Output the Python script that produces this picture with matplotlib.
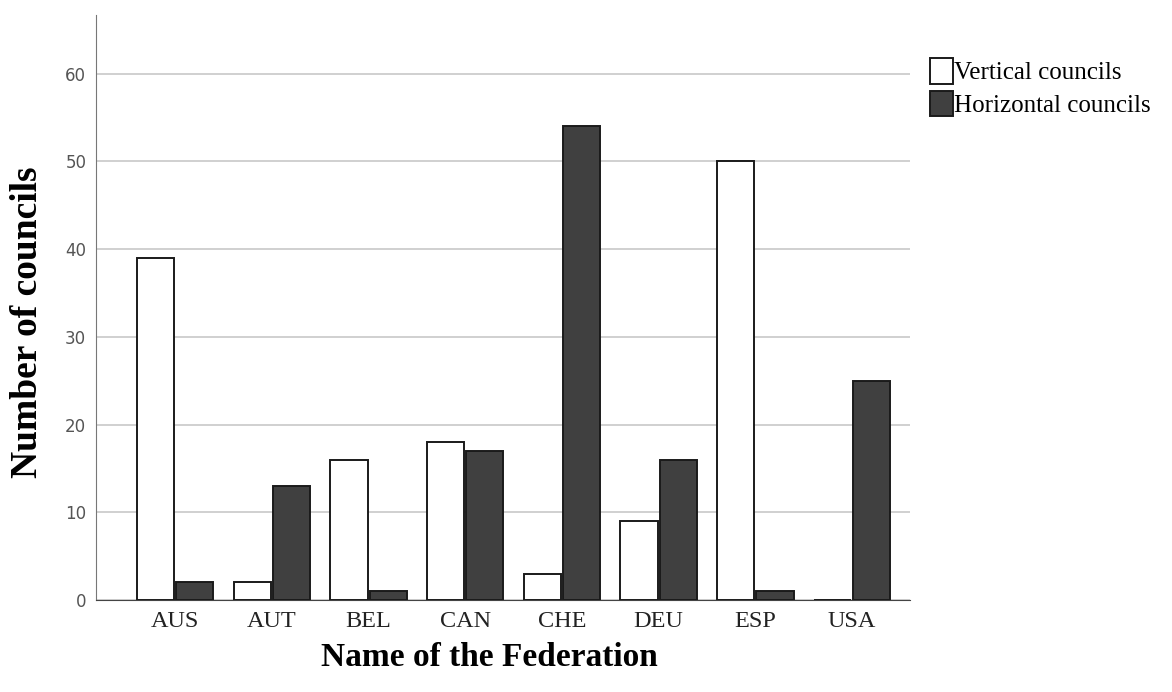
import numpy as np
import matplotlib.pyplot as plt

# Councils per federation
federations = ["AUS", "AUT", "BEL", "CAN", "CHE", "DEU", "ESP", "USA"]
vertical = [39, 2, 16, 18, 3, 9, 50, 0]
horizontal = [2, 13, 1, 17, 54, 16, 1, 25]

plt.rcParams['font.family'] = ['Liberation Serif', 'DejaVu Serif']

fig = plt.figure(figsize=(11.72, 6.92), dpi=100)
ax = fig.add_axes([96/1172, 92/692, (910-96)/1172, (600-15)/692])

x = np.arange(len(federations))
w = 0.385
ax.bar(x - w/2 - 0.01, vertical, w, color="white", edgecolor="#1a1a1a",
       linewidth=1.4, label="Vertical councils", zorder=3)
ax.bar(x + w/2 + 0.01, horizontal, w, color="#404040", edgecolor="#1a1a1a",
       linewidth=1.4, label="Horizontal councils", zorder=3)

ax.set_xlim(-0.82, 7.6)
ax.set_ylim(0, 66.7)
ax.set_yticks(range(0, 61, 10))
ax.set_xticks(x)
ax.set_xticklabels(federations, fontsize=17.5, color="#222222")
for t in ax.get_yticklabels():
    t.set_family("DejaVu Sans")
    t.set_fontsize(12)
    t.set_color("#555555")
ax.tick_params(axis="x", length=0, pad=8)
ax.tick_params(axis="y", length=0, pad=7)

ax.yaxis.grid(True, color="#c8c8c8", linewidth=1.2, zorder=0)
for s in ["top", "right"]:
    ax.spines[s].set_visible(False)
ax.spines["left"].set_color("#777777")
ax.spines["bottom"].set_color("#444444")

ax.set_xlabel("Name of the Federation", fontsize=24, fontweight="bold")
ax.set_ylabel("Number of councils", fontsize=27, fontweight="bold")
ax.xaxis.set_label_coords(0.483, -0.0718)
ax.yaxis.set_label_coords(-0.0627, 0.475)

fig.legend(loc="upper left", bbox_to_anchor=(930/1172, 1 - 58/692), frameon=False,
           fontsize=18, handlelength=0.9, handleheight=1.2, handletextpad=0.08,
           labelspacing=0.25, borderpad=0, borderaxespad=0)

fig.savefig("out.png", dpi=100)
